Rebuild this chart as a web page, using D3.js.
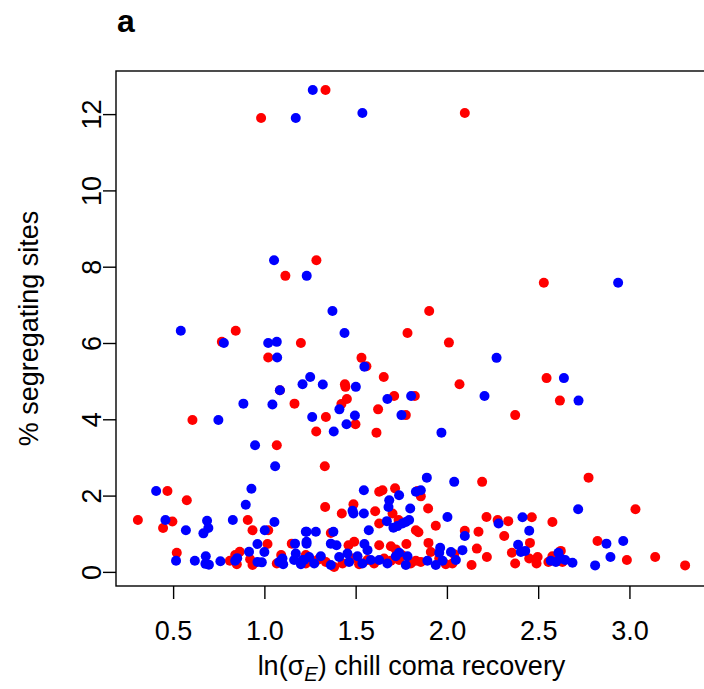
<!DOCTYPE html>
<html>
<head>
<meta charset="utf-8">
<script src="https://cdn.jsdelivr.net/npm/d3@7"></script>
<style>
  body { margin: 0; background: #fff; }
  text { font-family: "Liberation Sans", Arial, sans-serif; }
</style>
</head>
<body>
<div id="chart-area"></div>
<script>
// ln(sigma_E) vs % segregating sites, two groups
const redPoints = [
  [1.285, 8.17], [1.115, 7.76], [0.843, 6.32], [0.767, 6.03], [1.200, 6.00], [1.784, 6.26],
  [1.021, 5.62], [1.532, 5.61], [1.559, 5.39], [1.654, 5.11], [1.441, 4.92], [1.444, 4.85],
  [1.085, 4.76], [1.452, 4.53], [1.422, 4.40], [1.711, 4.61], [1.824, 4.61], [1.165, 4.41],
  [0.606, 3.98], [1.337, 4.06], [1.623, 4.26], [1.775, 4.11], [1.284, 3.68], [1.499, 3.87],
  [1.614, 3.65], [1.068, 3.32], [1.331, 2.77],
  [2.531, 7.58], [1.903, 6.84], [2.011, 6.01], [2.546, 5.08], [2.069, 4.92], [2.619, 4.49],
  [2.374, 4.11], [2.776, 2.47],
  [1.335, 12.63], [0.982, 11.90], [2.098, 12.03],
  [0.469, 2.12], [0.575, 1.88], [0.307, 1.36], [0.496, 1.32], [0.445, 1.15], [0.909, 1.36],
  [0.935, 1.09], [1.021, 1.09], [1.017, 0.73], [0.520, 0.50], [0.811, 0.29], [0.849, 0.20],
  [0.865, 0.53], [0.840, 0.44], [0.922, 0.33], [0.935, 0.18], [1.068, 0.22], [1.092, 0.44],
  [1.150, 0.74], [1.227, 0.44],
  [2.193, 2.36], [1.629, 2.10], [1.647, 2.14], [1.716, 2.19], [1.839, 2.12], [1.857, 1.98],
  [1.333, 1.70], [1.488, 1.77], [1.424, 1.53], [1.607, 1.59], [1.702, 1.53], [1.897, 1.66],
  [2.217, 1.44], [2.278, 1.36], [1.735, 1.36], [1.629, 1.27], [1.830, 1.09], [1.844, 1.04],
  [1.939, 1.21], [1.364, 1.02], [2.098, 1.08], [2.173, 1.05], [1.461, 0.70], [1.492, 0.79],
  [1.629, 0.70], [1.693, 0.67], [1.720, 0.59], [1.778, 0.73], [1.899, 0.76], [1.912, 0.52],
  [2.040, 0.46], [2.164, 0.61], [2.219, 0.39], [2.135, 0.18], [1.753, 0.44],
  [1.227, 0.22], [1.291, 0.31], [1.337, 0.26], [1.382, 0.13], [1.428, 0.22], [1.482, 0.35],
  [1.519, 0.20], [1.565, 0.31], [1.601, 0.22], [1.656, 0.35], [1.693, 0.29], [1.738, 0.31],
  [1.802, 0.22], [1.830, 0.29], [1.857, 0.26], [1.958, 0.35], [1.994, 0.20], [2.030, 0.22],
  [3.033, 1.64], [2.336, 1.33], [2.465, 1.43], [2.578, 1.31], [2.314, 0.94], [2.455, 0.76],
  [2.356, 0.50], [2.374, 0.22], [2.451, 0.35], [2.497, 0.39], [2.491, 0.22], [2.556, 0.26],
  [2.578, 0.41], [2.624, 0.55], [2.633, 0.26], [2.825, 0.81], [2.986, 0.31], [3.141, 0.39],
  [3.305, 0.17]
]

const bluePoints = [
  [1.053, 8.17], [1.232, 7.76], [1.373, 6.84], [0.542, 6.32], [0.778, 6.00], [1.021, 6.00],
  [1.068, 6.03], [1.439, 6.26], [1.070, 5.62], [1.548, 5.38], [1.251, 5.11], [1.209, 4.92],
  [1.320, 4.91], [1.501, 4.85], [1.085, 4.76], [1.411, 4.26], [1.674, 4.53], [1.804, 4.61],
  [0.885, 4.41], [1.044, 4.39], [0.748, 3.98], [1.262, 4.06], [1.496, 4.10], [1.751, 4.11],
  [1.380, 3.68], [1.450, 3.87], [0.949, 3.32], [1.059, 2.77],
  [2.938, 7.58], [2.272, 5.61], [2.641, 5.08], [2.206, 4.61], [2.721, 4.49], [1.970, 3.65],
  [1.265, 12.63], [1.172, 11.90], [1.537, 12.03],
  [0.407, 2.12], [0.929, 2.18], [0.898, 1.76], [0.458, 1.36], [0.570, 1.09], [0.686, 1.34],
  [0.693, 1.15], [0.666, 1.01], [0.827, 1.36], [1.055, 1.31], [1.002, 1.09], [0.962, 0.73],
  [1.000, 0.52], [0.516, 0.29], [0.619, 0.29], [0.679, 0.41], [0.677, 0.21], [0.696, 0.19],
  [0.759, 0.28], [0.840, 0.29], [0.851, 0.36], [0.916, 0.53], [0.962, 0.26], [0.986, 0.25],
  [1.081, 0.26], [1.099, 0.35], [1.103, 0.20], [1.168, 0.74], [1.172, 0.48], [1.163, 0.31],
  [1.200, 0.20], [1.227, 1.05], [1.231, 0.74], [1.218, 0.31],
  [1.890, 2.47], [2.040, 2.36], [1.545, 2.14], [1.738, 2.01], [1.830, 2.10], [1.857, 2.14],
  [1.684, 1.88], [1.680, 1.70], [1.483, 1.60], [1.488, 1.53], [1.545, 1.53], [1.799, 1.66],
  [2.003, 1.44], [2.283, 1.27], [1.671, 1.33], [1.729, 1.20], [1.707, 1.16], [1.756, 1.27],
  [1.775, 1.31], [1.793, 1.36], [1.572, 1.09], [2.098, 0.94], [1.231, 1.05], [1.282, 1.05],
  [1.378, 1.05], [1.231, 0.79], [1.364, 0.74], [1.395, 0.70], [1.548, 0.73], [1.565, 0.57],
  [1.963, 0.63], [1.958, 0.50], [2.022, 0.52], [2.085, 0.57], [1.738, 0.50], [1.784, 0.41],
  [1.209, 0.31], [1.245, 0.39], [1.273, 0.22], [1.309, 0.41], [1.364, 0.18], [1.410, 0.39],
  [1.455, 0.48], [1.464, 0.26], [1.510, 0.41], [1.537, 0.22], [1.583, 0.31], [1.629, 0.31],
  [1.674, 0.22], [1.720, 0.41], [1.775, 0.18], [1.893, 0.29], [1.939, 0.18], [1.976, 0.29],
  [2.049, 0.31],
  [2.719, 1.64], [2.414, 1.43], [2.451, 1.08], [2.390, 0.71], [2.405, 0.52], [2.429, 0.55],
  [2.569, 0.29], [2.597, 0.26], [2.611, 0.50], [2.624, 0.35], [2.648, 0.31], [2.688, 0.24],
  [2.874, 0.74], [2.966, 0.81], [2.896, 0.39], [2.812, 0.17]
]

const xTicks = [0.5, 1.0, 1.5, 2.0, 2.5, 3.0]
const yTicks = [0, 2, 4, 6, 8, 10, 12]

const MARGIN = { LEFT: 116, TOP: 71 }
const WIDTH = 591
const HEIGHT = 515
const FONT = 27
const TICK = 13

const svg = d3.select("#chart-area").append("svg")
  .attr("width", 704)
  .attr("height", 689)

const g = svg.append("g")
  .attr("transform", `translate(${MARGIN.LEFT}, ${MARGIN.TOP})`)

// R style limits: data range padded by 4% each side
const allPts = redPoints.concat(bluePoints)
const pad = (ext) => { const r = ext[1] - ext[0]; return [ext[0] - 0.04 * r, ext[1] + 0.04 * r] }

const x = d3.scaleLinear().domain(pad(d3.extent(allPts, d => d[0]))).range([0, WIDTH])
const y = d3.scaleLinear().domain(pad(d3.extent(allPts, d => d[1]))).range([HEIGHT, 0])

// points: red first, blue on top
g.selectAll(".red").data(redPoints).enter().append("circle")
  .attr("class", "red")
  .attr("cx", d => x(d[0]))
  .attr("cy", d => y(d[1]))
  .attr("r", 5)
  .attr("fill", "#ff0000")

g.selectAll(".blue").data(bluePoints).enter().append("circle")
  .attr("class", "blue")
  .attr("cx", d => x(d[0]))
  .attr("cy", d => y(d[1]))
  .attr("r", 5)
  .attr("fill", "#0000ff")

// box
g.append("rect")
  .attr("width", WIDTH)
  .attr("height", HEIGHT)
  .attr("fill", "none")
  .attr("stroke", "#000")
  .attr("stroke-width", 1.4)

// x axis
const xAxis = g.append("g")
  .attr("transform", `translate(0, ${HEIGHT})`)
  .call(d3.axisBottom(x).tickValues(xTicks).tickSize(TICK).tickPadding(22).tickFormat(d3.format(".1f")))
xAxis.select(".domain").remove()
xAxis.selectAll("line").attr("stroke-width", 1.4)
xAxis.selectAll("text")
  .attr("font-size", FONT)
  .attr("font-family", "Liberation Sans, Arial, sans-serif")
  .attr("fill", "#000")

// y axis, labels parallel to axis
const yAxis = g.append("g")
  .call(d3.axisLeft(y).tickValues(yTicks).tickSize(TICK))
yAxis.select(".domain").remove()
yAxis.selectAll("line").attr("stroke-width", 1.4)
yAxis.selectAll("text")
  .attr("transform", "rotate(-90)")
  .attr("x", 0)
  .attr("y", -15)
  .attr("dy", 0)
  .attr("text-anchor", "middle")
  .attr("font-size", FONT)
  .attr("font-family", "Liberation Sans, Arial, sans-serif")
  .attr("fill", "#000")

// axis titles
const xLabel = svg.append("text")
  .attr("x", MARGIN.LEFT + WIDTH / 2)
  .attr("y", 675)
  .attr("font-size", FONT)
  .attr("text-anchor", "middle")
xLabel.append("tspan").text("ln(\u03c3")
xLabel.append("tspan").attr("font-style", "italic").attr("font-size", FONT * 0.75).attr("dy", 6).text("E")
xLabel.append("tspan").attr("dy", -6).text(") chill coma recovery")

svg.append("text")
  .attr("transform", `translate(38, ${MARGIN.TOP + HEIGHT / 2}) rotate(-90)`)
  .attr("font-size", FONT)
  .attr("text-anchor", "middle")
  .text("% segregating sites")

// panel letter
svg.append("text")
  .attr("x", 117)
  .attr("y", 32)
  .attr("font-size", 32)
  .attr("font-weight", "bold")
  .text("a")
</script>
</body>
</html>
